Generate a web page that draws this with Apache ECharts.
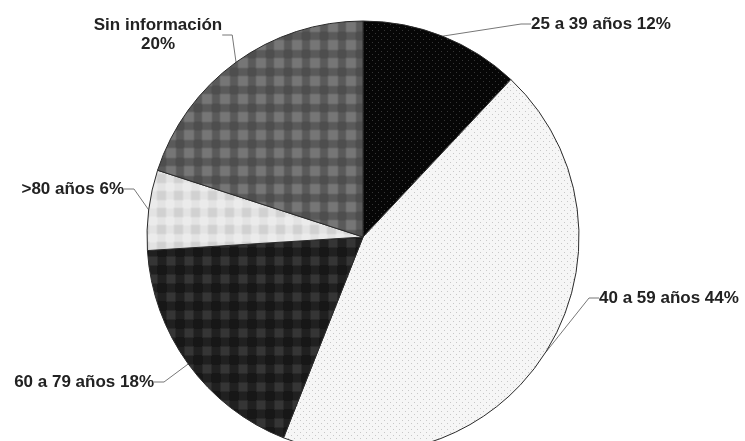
<!DOCTYPE html>
<html><head><meta charset="utf-8">
<script src="https://cdn.jsdelivr.net/npm/echarts@6/dist/echarts.min.js"></script>
<style>html,body{margin:0;padding:0;background:#fff}#c{width:745px;height:441px}</style>
</head><body><div id="c"></div>
<script>
var categories = ['25 a 39 años', '40 a 59 años', '60 a 79 años', '>80 años', 'Sin información'];
var values = [12, 44, 18, 6, 20];

function pat(bg, fg, period, size, kind) {
  var c = document.createElement('canvas');
  c.width = period; c.height = period;
  var g = c.getContext('2d');
  g.fillStyle = bg; g.fillRect(0, 0, period, period);
  g.fillStyle = fg;
  if (kind === 'dot') {
    g.fillRect(0, 0, size, size);
    g.fillRect(period / 2, period / 2, size, size);
  } else {
    var o = (period - size) / 2;
    g.globalAlpha = 0.5;
    g.fillRect(o - 1, o - 1, size + 2, size + 2);
    g.globalAlpha = 1;
    g.fillRect(o, o, size, size);
    g.globalAlpha = 0.3;
    g.fillRect(0, o, period, size);
    g.fillRect(o, 0, size, period);
  }
  return { image: c, repeat: 'repeat' };
}
var fills = [
  pat('#060606', '#353535', 6, 1, 'dot'),
  pat('#f6f6f6', '#c8c8c8', 6, 1, 'dot'),
  pat('#171717', '#353535', 18, 8, 'sq'),
  pat('#ebebeb', '#d2d2d2', 17, 8, 'sq'),
  pat('#4e4e4e', '#767676', 18, 9, 'sq')
];
var labelText = [
  '25 a 39 años 12%', '40 a 59 años 44%', '60 a 79 años 18%', '>80 años 6%', 'Sin información\n20%'
];
var labelPos = [
  [531, 24, 'left'], [599, 298, 'left'], [154, 382, 'right'], [124, 189, 'right'], [158, 35, 'center']
];
var data = categories.map(function (n, i) {
  return { name: n, value: values[i], itemStyle: { color: fills[i] },
    label: { formatter: labelText[i] } };
});
var chart = echarts.init(document.getElementById('c'));
chart.setOption({
  animation: false,
  series: [{
    type: 'pie',
    center: [363, 237],
    radius: 216,
    startAngle: 90,
    clockwise: true,
    data: data,
    itemStyle: { borderColor: '#2a2a2a', borderWidth: 1 },
    label: {
      show: true, position: 'outside',
      fontFamily: 'Liberation Sans', fontWeight: 'bold', fontSize: 17,
      color: '#222', lineHeight: 19
    },
    labelLine: { show: true, length: 15, length2: 10, lineStyle: { color: '#777', width: 1 } },
    labelLayout: function (p) {
      var lp = labelPos[p.dataIndex];
      return { x: lp[0], y: lp[1], align: lp[2], verticalAlign: 'middle' };
    }
  }]
});
</script></body></html>
